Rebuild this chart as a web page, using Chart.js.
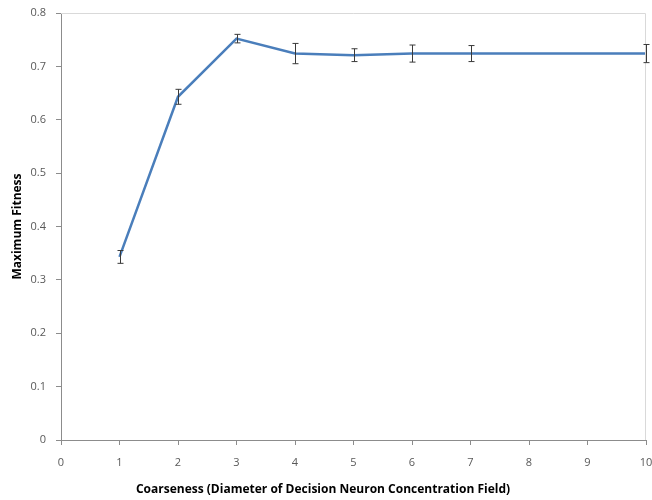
<!DOCTYPE html>
<html>
<head>
<meta charset="utf-8">
<script src="https://cdn.jsdelivr.net/npm/chart.js@4"></script>
<style>
  html, body { margin: 0; padding: 0; background: #fff; }
  #wrap { width: 652px; height: 500px; }
</style>
</head>
<body>
<div id="wrap"><canvas id="fitChart"></canvas></div>
<script>
// coarseness values (x) and max fitness (y) with error bar half-widths
var coarseness = [1, 2, 3, 4, 5, 6, 7, 10];
var maxFitness = [0.343, 0.643, 0.752, 0.724, 0.721, 0.724, 0.724, 0.724];
var fitnessErr = [0.012, 0.014, 0.008, 0.019, 0.012, 0.016, 0.015, 0.017];

var xTicks = [0, 1, 2, 3, 4, 5, 6, 7, 8, 9, 10];
var yTicks = [0, 0.1, 0.2, 0.3, 0.4, 0.5, 0.6, 0.7, 0.8];

var axisGray = "#8c8c8c";
var labelGray = "#595959";

// draws the plot frame and the error bars through the scales
var errorBars = {
  id: "errorBars",
  afterDatasetsDraw: function (chart) {
    var ctx = chart.ctx;
    var xs = chart.scales.x, ys = chart.scales.y;
    var area = chart.chartArea;
    ctx.save();
    ctx.strokeStyle = "#d9d9d9";
    ctx.lineWidth = 1;
    ctx.beginPath();
    ctx.moveTo(area.left, area.top + 0.5);
    ctx.lineTo(area.right - 0.5, area.top + 0.5);
    ctx.lineTo(area.right - 0.5, area.bottom);
    ctx.stroke();

    ctx.strokeStyle = "#3a3a3a";
    ctx.lineWidth = 1;
    for (var i = 0; i < coarseness.length; i++) {
      var px = Math.round(xs.getPixelForValue(coarseness[i])) + 0.5;
      var top = ys.getPixelForValue(maxFitness[i] + fitnessErr[i]);
      var bot = ys.getPixelForValue(maxFitness[i] - fitnessErr[i]);
      ctx.beginPath();
      ctx.moveTo(px, top); ctx.lineTo(px, bot);
      ctx.moveTo(px - 3, top); ctx.lineTo(px + 3, top);
      ctx.moveTo(px - 3, bot); ctx.lineTo(px + 3, bot);
      ctx.stroke();
    }
    ctx.restore();
  }
};

const fitPlot = () => {
  var ctx = document.getElementById("fitChart").getContext("2d");
  var points = coarseness.map(function (c, i) { return { x: c, y: maxFitness[i] }; });

  new Chart(ctx, {
    type: "line",
    data: {
      datasets: [{
        label: "Maximum Fitness",
        data: points,
        borderColor: "#4a7ebb",
        borderWidth: 2.5,
        pointRadius: 0,
        tension: 0,
        fill: false
      }]
    },
    plugins: [errorBars],
    options: {
      responsive: true,
      maintainAspectRatio: false,
      animation: false,
      layout: { padding: { top: 13, right: 6, left: 0, bottom: 0 } },
      plugins: {
        legend: { display: false },
        tooltip: { enabled: false },
        // x axis title, centred on the whole picture like the original
        title: {
          display: true,
          position: "bottom",
          text: "Coarseness (Diameter of Decision Neuron Concentration Field)",
          color: "#000",
          font: { family: "Open Sans", size: 12, weight: "bold" },
          padding: { top: 7, bottom: 3 }
        }
      },
      scales: {
        x: {
          type: "linear",
          min: 0,
          max: 10,
          afterBuildTicks: function (axis) {
            axis.ticks = xTicks.map(function (v) { return { value: v }; });
          },
          afterFit: function (axis) {
            axis.height = 35.6;
            axis.paddingLeft = 0;
            axis.paddingRight = 0;
          },
          grid: { drawOnChartArea: false, drawTicks: true, tickLength: 5, color: axisGray },
          border: { color: axisGray },
          ticks: {
            padding: 11,
            color: labelGray,
            font: { family: "Open Sans", size: 11 }
          }
        },
        y: {
          min: 0,
          max: 0.8,
          afterBuildTicks: function (axis) {
            axis.ticks = yTicks.map(function (v) { return { value: v }; });
          },
          afterFit: function (axis) {
            axis.width = 61;
            axis.paddingTop = 0;
            axis.paddingBottom = 0;
          },
          grid: { drawOnChartArea: false, drawTicks: true, tickLength: 5, color: axisGray },
          border: { color: axisGray },
          ticks: {
            padding: 10,
            color: labelGray,
            font: { family: "Open Sans", size: 11 },
            callback: function (v) { return String(Math.round(v * 10) / 10); }
          },
          title: {
            display: true,
            text: "Maximum Fitness",
            color: "#000",
            font: { family: "Open Sans", size: 12, weight: "bold" },
            padding: { top: 10, bottom: 4 }
          }
        }
      }
    }
  });
};

fitPlot();
</script>
</body>
</html>
